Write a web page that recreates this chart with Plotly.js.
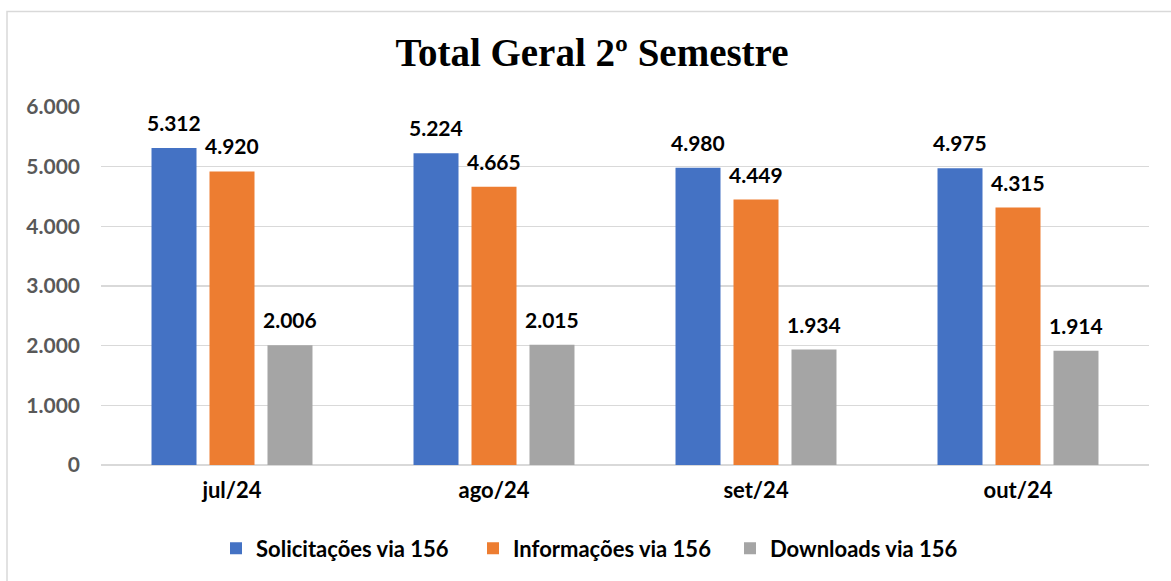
<!DOCTYPE html>
<html>
<head>
<meta charset="utf-8">
<script src="https://cdn.plot.ly/plotly-3.0.1.min.js"></script>
<style>
html,body{margin:0;padding:0;background:#fff;overflow:hidden;}
#chart{width:1171px;height:581px;}
</style>
</head>
<body>
<div id="chart"></div>
<script>
const categories = ["jul/24", "ago/24", "set/24", "out/24"];
const solicitacoes = [5312, 5224, 4980, 4975];
const informacoes = [4920, 4665, 4449, 4315];
const downloads = [2006, 2015, 1934, 1914];
const seriesNames = ["Solicitações via 156", "Informações via 156", "Downloads via 156"];
const seriesColors = ["#4472C4", "#ED7D31", "#A5A5A5"];
const yTicks = [0, 1000, 2000, 3000, 4000, 5000, 6000];

const seriesValues = [solicitacoes, informacoes, downloads];

function fmt(v) {
  return String(v).replace(/\B(?=(\d{3})+(?!\d))/g, ".");
}

const traces = seriesValues.map((vals, i) => ({
  type: "bar",
  name: seriesNames[i],
  x: categories,
  y: vals,
  marker: {color: seriesColors[i]},
  offsetgroup: String(i),
  hoverinfo: "skip"
}));

const bargap = 0.336, bargroupgap = 0.224;
const slot = (1 - bargap) / 3;
const annotations = [];
seriesValues.forEach((vals, i) => {
  vals.forEach((v, j) => {
    annotations.push({
      x: j + (i - 1) * slot,
      y: v,
      xref: "x",
      yref: "y",
      text: fmt(v),
      showarrow: false,
      yanchor: "bottom",
      xanchor: "center",
      yshift: 11,
      font: {family: "Lato, 'Open Sans', sans-serif", size: 21, color: "#000000", weight: "bold"}
    });
  });
});

const L = 101, R = 22, T = 107, B = 114;
const W = 1171 - L - R, H = 581 - T - B;

const layout = {
  width: 1171,
  height: 581,
  margin: {l: L, r: R, t: T, b: B, pad: 0},
  paper_bgcolor: "#ffffff",
  plot_bgcolor: "#ffffff",
  barmode: "group",
  bargap: bargap,
  bargroupgap: bargroupgap,
  separators: ",.",
  title: {
    text: "<b>Total Geral 2º Semestre</b>",
    font: {family: "'Liberation Serif', 'DejaVu Serif', serif", size: 39, color: "#000000"},
    x: 592 / 1171,
    xanchor: "center",
    xref: "container",
    y: 1 - 52 / 581,
    yref: "container",
    yanchor: "middle"
  },
  xaxis: {
    type: "category",
    categoryorder: "array",
    categoryarray: categories,
    showgrid: false,
    showline: false,
    zeroline: false,
    ticks: "",
    ticklabelstandoff: 10,
    tickfont: {family: "Lato, 'Open Sans', sans-serif", size: 22, color: "#000000", weight: "bold"},
    fixedrange: true
  },
  yaxis: {
    range: [0, 6000],
    tickvals: yTicks,
    ticktext: yTicks.map(fmt),
    showgrid: true,
    gridcolor: "#d9d9d9",
    gridwidth: 1.5,
    zeroline: true,
    zerolinecolor: "#d9d9d9",
    zerolinewidth: 1.5,
    showline: false,
    ticks: "",
    ticklabelstandoff: 20,
    tickfont: {family: "Lato, 'Open Sans', sans-serif", size: 21, color: "#595959", weight: "bold"},
    fixedrange: true
  },
  showlegend: true,
  legend: {
    orientation: "h",
    x: (216 - L) / W,
    xanchor: "left",
    xref: "paper",
    y: (466 - 550) / H,
    yanchor: "middle",
    font: {family: "Lato, 'Open Sans', sans-serif", size: 22, color: "#000000", weight: "bold"},
    itemwidth: 30,
    entrywidth: 212,
    entrywidthmode: "pixels",
    tracegroupgap: 0,
    bgcolor: "rgba(0,0,0,0)"
  },
  annotations: annotations,
  shapes: [{
    type: "rect",
    xref: "paper",
    yref: "paper",
    x0: (7 - L) / W,
    x1: (1190 - L) / W,
    y0: (466 - 600) / H,
    y1: (466 - 10) / H,
    line: {color: "#d9d9d9", width: 1.5},
    fillcolor: "rgba(0,0,0,0)",
    layer: "below"
  }]
};

Plotly.newPlot("chart", traces, layout, {displayModeBar: false, staticPlot: true});
</script>
</body>
</html>
